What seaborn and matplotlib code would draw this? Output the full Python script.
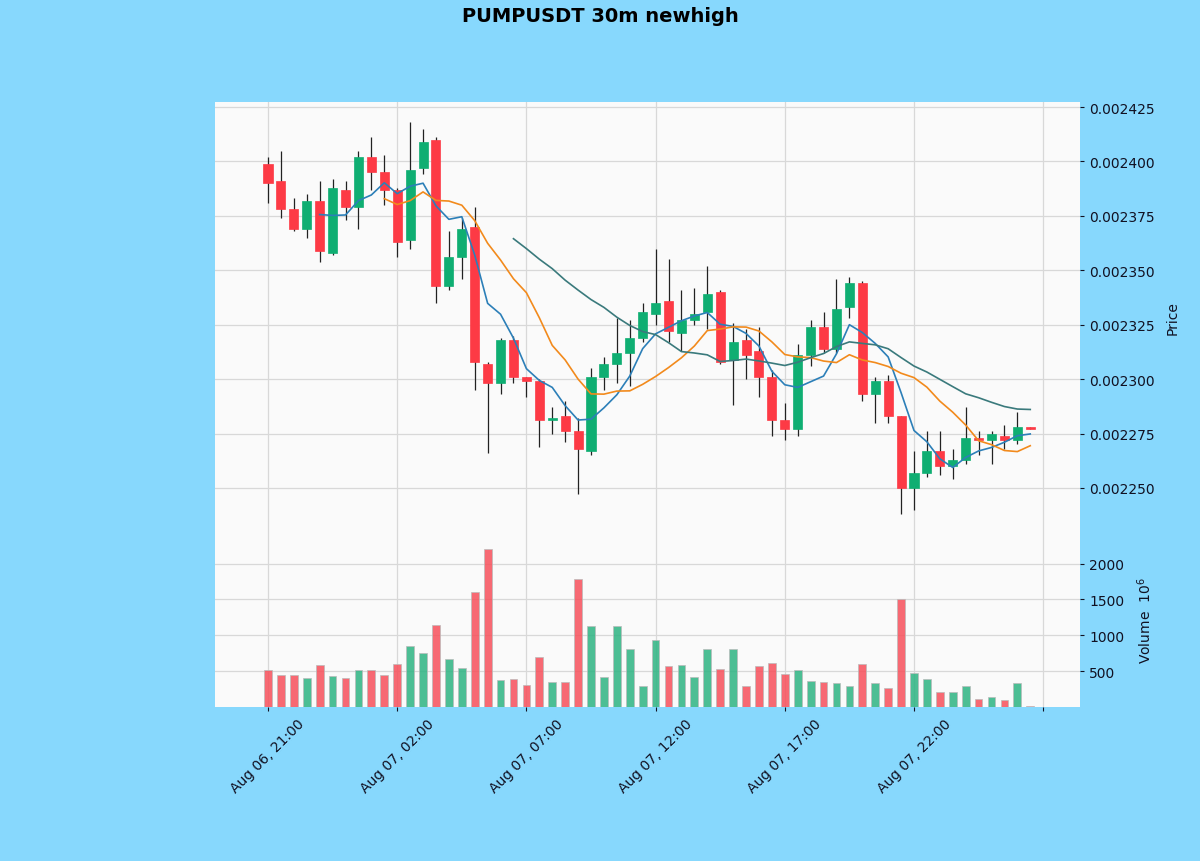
import numpy as np
import pandas as pd
import seaborn as sns
import matplotlib
matplotlib.use("Agg")
import matplotlib.pyplot as plt

# OHLC, in units of 1e-6 USDT
opens = [2399, 2391, 2378, 2369, 2382, 2358, 2387, 2379, 2402, 2395,
         2387, 2364, 2397, 2410, 2343, 2356, 2370, 2307, 2298, 2318,
         2301, 2299, 2281, 2283, 2276, 2267, 2301, 2307, 2312, 2319,
         2330, 2336, 2321, 2327, 2331, 2340, 2309, 2318, 2313, 2301,
         2281, 2277, 2311, 2324, 2314, 2333, 2344, 2293, 2299, 2283,
         2250, 2257, 2267, 2260, 2263, 2273, 2272, 2274, 2272, 2278]
highs = [2402, 2405, 2383, 2385, 2391, 2392, 2391, 2405, 2411, 2403,
         2388, 2418, 2415, 2411, 2368, 2374, 2379, 2308, 2319, 2320,
         2301, 2300, 2287, 2290, 2282, 2305, 2310, 2328, 2327, 2335,
         2360, 2355, 2341, 2342, 2352, 2341, 2326, 2323, 2324, 2304,
         2289, 2316, 2327, 2331, 2346, 2347, 2345, 2301, 2302, 2283,
         2267, 2276, 2276, 2268, 2287, 2276, 2276, 2279, 2285, 2278]
lows = [2381, 2374, 2368, 2365, 2354, 2357, 2373, 2369, 2387, 2380,
        2356, 2360, 2394, 2335, 2341, 2346, 2295, 2266, 2293, 2298,
        2292, 2269, 2275, 2271, 2247, 2265, 2295, 2298, 2297, 2317,
        2325, 2317, 2313, 2325, 2323, 2307, 2288, 2300, 2292, 2274,
        2272, 2274, 2306, 2312, 2312, 2328, 2290, 2280, 2280, 2238,
        2240, 2255, 2256, 2254, 2261, 2265, 2261, 2268, 2270, 2277]
closes = [2390, 2378, 2369, 2382, 2359, 2388, 2379, 2402, 2395, 2387,
          2363, 2396, 2409, 2343, 2356, 2369, 2308, 2298, 2318, 2301,
          2299, 2281, 2282, 2276, 2268, 2301, 2307, 2312, 2319, 2331,
          2335, 2322, 2327, 2330, 2339, 2308, 2317, 2311, 2301, 2281,
          2277, 2311, 2324, 2314, 2332, 2344, 2293, 2299, 2283, 2250,
          2257, 2267, 2260, 2263, 2273, 2272, 2275, 2272, 2278, 2277]
# volume in millions
volumes = [514, 444, 444, 411, 584, 430, 411, 524, 514, 444,
           608, 852, 758, 1148, 673, 552, 1603, 2204, 373, 397,
           303, 701, 349, 349, 1782, 1134, 420, 1134, 814, 289,
           937, 570, 584, 420, 805, 538, 805, 289, 580, 622,
           467, 514, 369, 349, 341, 289, 599, 341, 270, 1500,
           476, 387, 218, 218, 298, 115, 138, 106, 335, 12]
mav_periods = [5, 10, 20]
mav_colors = ["#2c7fb8", "#f28a1c", "#3a7a7c"]

times = pd.date_range("2025-08-06 21:00", periods=len(closes), freq="30min")

df = pd.DataFrame({"open": opens, "high": highs, "low": lows,
                   "close": closes, "volume": volumes})
df[["open", "high", "low", "close"]] *= 1e-6
df["idx"] = np.arange(len(df))
df["dir"] = np.where(df["close"] >= df["open"], "up", "down")

up_c, down_c = "#0fae72", "#fd3a45"
bg = "#87d8fd"

fig = plt.figure(figsize=(12, 8.62), dpi=100, facecolor=bg)
ax = fig.add_axes([0.1792, 0.3805, 0.7208, 0.5000])
axv = fig.add_axes([0.1792, 0.1787, 0.7208, 0.2018], sharex=ax)

for a in (ax, axv):
    a.set_facecolor("#fafafa")
    a.grid(True, color="#d8d8d8", linewidth=0.9)
    a.set_axisbelow(True)
    for s in a.spines.values():
        s.set_visible(False)
    a.yaxis.tick_right()
    a.yaxis.set_label_position("right")
    a.tick_params(colors="#111122", labelsize=10, length=3)

# candles
cols = df["dir"].map({"up": up_c, "down": down_c})
ax.vlines(df["idx"], df["low"], df["high"], color="#222222", linewidth=0.9, zorder=2)
ax.bar(df["idx"], df["close"] - df["open"], bottom=df["open"], width=0.7,
       color=cols, edgecolor=cols, linewidth=0.5, zorder=3)

# moving averages
for p, c in zip(mav_periods, mav_colors):
    ma = df["close"].rolling(p).mean()
    sns.lineplot(x=df["idx"], y=ma, color=c, linewidth=1.2, ax=ax, zorder=4)

ax.set_ylim(0.0022293, 0.0024273)
ax.set_yticks([0.00225, 0.002275, 0.0023, 0.002325, 0.00235, 0.002375, 0.0024, 0.002425])
ax.set_yticklabels(["0.002250", "0.002275", "0.002300", "0.002325",
                    "0.002350", "0.002375", "0.002400", "0.002425"])
ax.set_ylabel("Price", fontsize=10, color="#111122", labelpad=8)
ax.set_xlabel("")
ax.tick_params(axis="x", labelbottom=False, length=0)

# volume
sns.barplot(x=df["idx"], y=df["volume"], hue=df["dir"],
            palette={"up": "#2db482", "down": "#f7505b"}, dodge=False, width=0.6,
            native_scale=True, errorbar=None, legend=False, alpha=0.85,
            saturation=1, linewidth=0.6, edgecolor="#bbbbbb", ax=axv)
axv.set_ylim(0.3 * min(volumes), 1.1 * max(volumes))
axv.set_yticks([500, 1000, 1500, 2000])
axv.set_ylabel("Volume  $10^{6}$", fontsize=10, color="#111122", labelpad=8)
axv.set_xlabel("")

ticks = list(range(0, 61, 10))
labels = [times[t].strftime("%b %d, %H:%M") if t < len(times) else "" for t in ticks]
axv.set_xticks(ticks)
axv.set_xticklabels(labels, rotation=45, ha="center")
axv.set_xlim(-4.1, 62.85)

fig.text(0.5, 1 - 16 / 862, "PUMPUSDT 30m newhigh", ha="center", va="center",
         fontsize=14, fontweight="bold", color="black")

fig.savefig("out.png", dpi=100, facecolor=bg)
